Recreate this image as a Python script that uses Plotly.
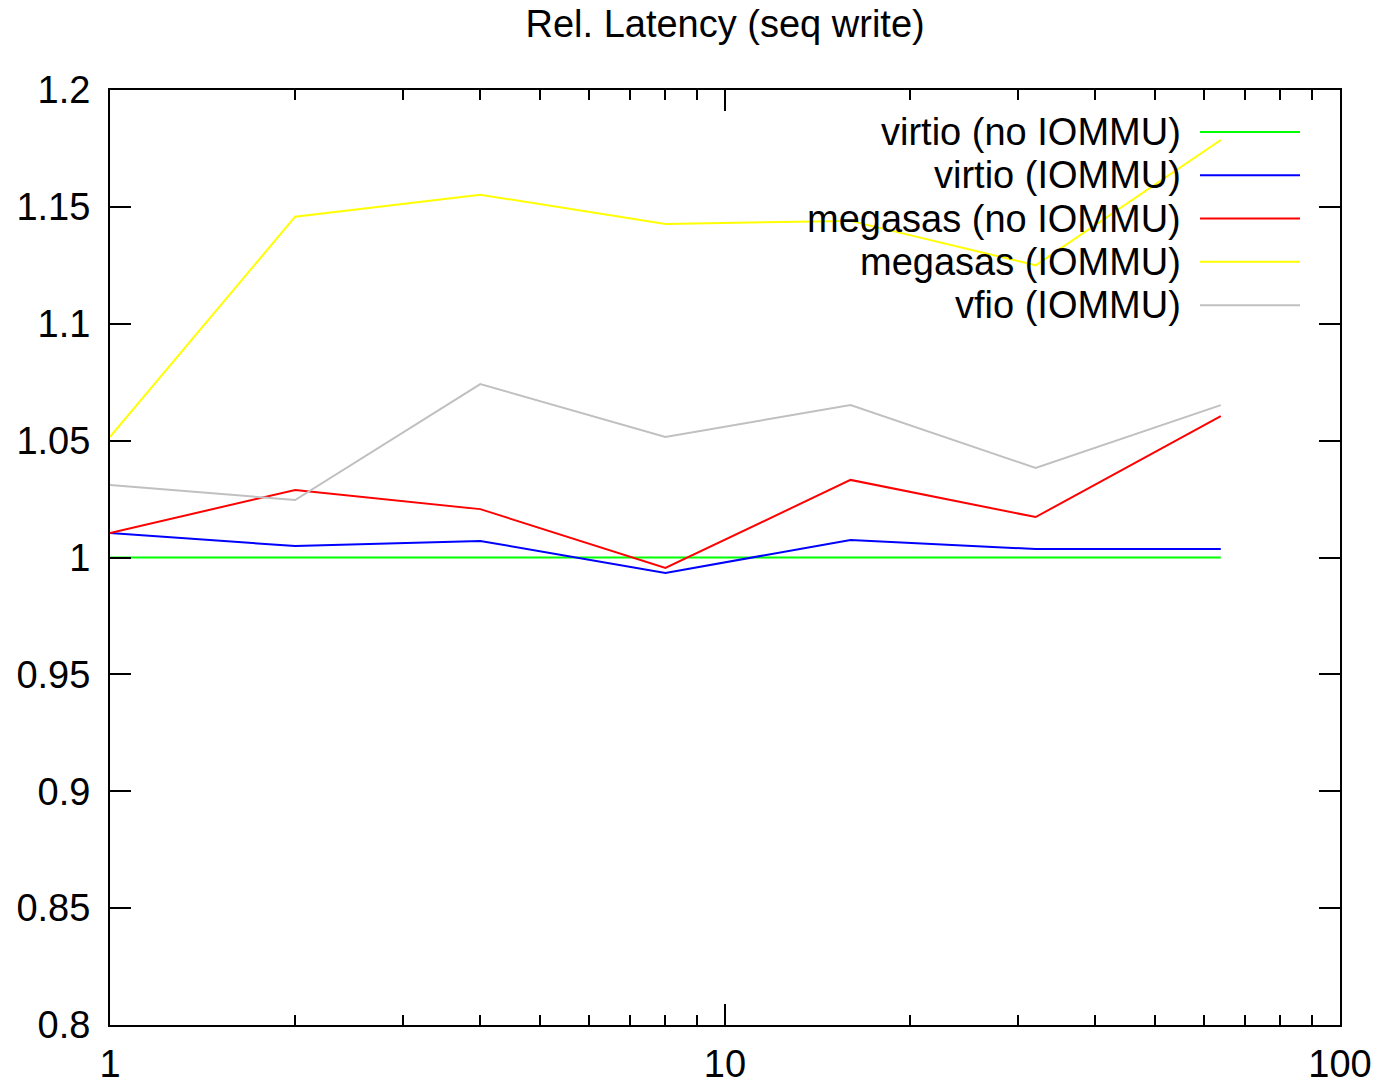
import plotly.graph_objects as go

# Queue depth (log scale) and latency relative to virtio without IOMMU
queue_depth = [1, 2, 4, 8, 16, 32, 64]

series_names = [
    "virtio (no IOMMU)",
    "virtio (IOMMU)",
    "megasas (no IOMMU)",
    "megasas (IOMMU)",
    "vfio (IOMMU)",
]
virtio_no_iommu = [1.0, 1.0, 1.0, 1.0, 1.0, 1.0, 1.0]
virtio_iommu = [1.0105, 1.0049, 1.0071, 0.9934, 1.0075, 1.0036, 1.0036]
megasas_no_iommu = [1.0105, 1.0289, 1.0207, 0.9955, 1.0332, 1.0173, 1.0605]
megasas_iommu = [1.0516, 1.1458, 1.1552, 1.1427, 1.1440, 1.1250, 1.1786]
vfio_iommu = [1.0310, 1.0246, 1.0742, 1.0516, 1.0652, 1.0383, 1.0652]

series_values = [virtio_no_iommu, virtio_iommu, megasas_no_iommu,
                 megasas_iommu, vfio_iommu]
series_colors = ["#00ff00", "#0000ff", "#ff0000", "#ffff00", "#c0c0c0"]

x_major = [1, 10, 100]
x_major_text = ["1", "10", "100"]
x_minor = [2, 3, 4, 5, 6, 7, 8, 9, 20, 30, 40, 50, 60, 70, 80, 90]

y_ticks = [0.8, 0.85, 0.9, 0.95, 1.0, 1.05, 1.1, 1.15, 1.2]
y_tick_text = ["0.8", "0.85", "0.9", "0.95", "1", "1.05", "1.1", "1.15", "1.2"]

FONT = "Liberation Sans, Arial, sans-serif"
FS = 38

fig = go.Figure()
for name, vals, col in zip(series_names, series_values, series_colors):
    fig.add_trace(go.Scatter(
        x=queue_depth, y=vals, mode="lines", name=name,
        line=dict(color=col, width=2), showlegend=False,
    ))

# Key in the top-right corner: right-aligned label followed by a line sample
row_top = 0.9551
row_step = 0.0463
for i, (name, col) in enumerate(zip(series_names, series_colors)):
    yy = row_top - i * row_step
    fig.add_annotation(
        x=0.8725, y=yy, xref="paper", yref="paper", text=name,
        showarrow=False, xanchor="right", yanchor="middle",
        font=dict(family=FONT, size=FS, color="black"),
    )
    fig.add_shape(
        type="line", xref="paper", yref="paper",
        x0=0.8862, x1=0.9675, y0=yy, y1=yy,
        line=dict(color=col, width=2),
    )

fig.update_layout(
    width=1378, height=1084,
    margin=dict(l=110, r=38, t=90, b=59),
    paper_bgcolor="white", plot_bgcolor="white",
    font=dict(family=FONT, size=FS, color="black"),
    title=dict(text="Rel. Latency (seq write)", x=0.5262, xanchor="center",
               y=0.978, yanchor="middle",
               font=dict(family=FONT, size=FS, color="black")),
    xaxis=dict(
        type="log", range=[0, 2], automargin=False,
        tickmode="array", tickvals=x_major, ticktext=x_major_text,
        ticks="inside", ticklen=21, tickwidth=1.5, tickcolor="black",
        ticklabelstandoff=4,
        showline=True, linecolor="black", linewidth=2, mirror="ticks",
        showgrid=False, zeroline=False,
        minor=dict(tickmode="array", tickvals=x_minor,
                   ticks="inside", ticklen=10, tickwidth=1.5,
                   tickcolor="black", showgrid=False),
    ),
    yaxis=dict(
        range=[0.8, 1.2], automargin=False,
        tickmode="array", tickvals=y_ticks, ticktext=y_tick_text,
        ticks="inside", ticklen=21, tickwidth=1.5, tickcolor="black",
        ticklabelstandoff=10,
        showline=True, linecolor="black", linewidth=2, mirror="ticks",
        showgrid=False, zeroline=False,
    ),
)

fig.write_html("out.html")
